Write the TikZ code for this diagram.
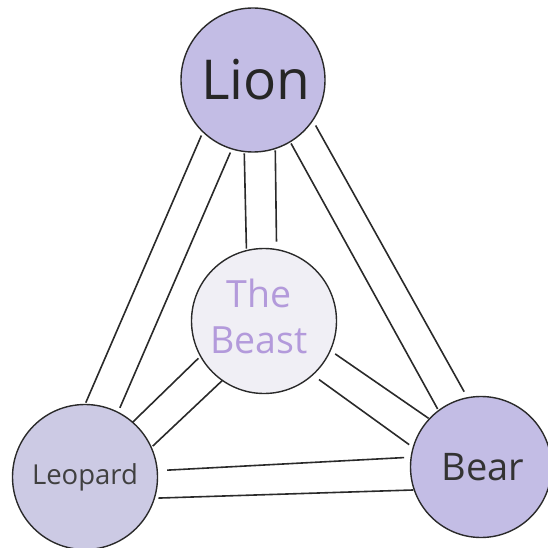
\documentclass[tikz,border=0pt]{standalone}
\usepackage{fontspec}
\setmainfont{Open Sans}
\definecolor{lionfill}{HTML}{C3BDE5}
\definecolor{leofill}{HTML}{CCCAE4}
\definecolor{beastfill}{HTML}{F0EFF5}
\definecolor{beasttext}{HTML}{B39ADB}
\definecolor{edgecol}{HTML}{2A2A2A}
\begin{document}
\begin{tikzpicture}[x=1pt,y=-1pt,
  animal/.style={circle,draw=edgecol,line width=1.4pt,inner sep=0pt,outer sep=0pt,align=center},
  link/.style={draw=edgecol,line width=1.6pt}]
\useasboundingbox (0,0) rectangle (548,548);
\begin{scope}
\clip (0,0) rectangle (548,548);
\node[animal,fill=lionfill,minimum size=144pt,text=black!85,font=\fontsize{55}{60}\selectfont] (lion) at (253,80) {\hspace*{6pt}Lion};
\node[animal,fill=beastfill,minimum size=145pt] (beast) at (264,321) {};
\node[text=beasttext,font=\fontsize{37.5}{46}\selectfont,align=center,inner sep=0pt] (beastlbl) at (259,316) {The\\Beast};
\node[animal,fill=leofill,minimum size=145pt,text=black!75,font=\fontsize{27.5}{30}\selectfont] (leo) at (85,477) {Leopard};
\node[animal,fill=lionfill,minimum size=141pt,text=black!80,font=\fontsize{38}{40}\selectfont] (bear) at (481,467) {\hspace*{4pt}Bear};
\end{scope}
% Lion - Leopard
\draw[link,shorten <=4pt,shorten >=2pt] (lion.226.5) -- (leo.90);
\draw[link,shorten <=4pt,shorten >=5pt] (lion.253) -- (leo.63.4);
% Lion - Beast
\draw[link,shorten <=2pt,shorten >=2pt] (lion.263.5) -- (beast.104.7);
\draw[link,shorten <=2pt,shorten >=8pt] (lion.288.9) -- (beast.80.1);
% Lion - Bear
\draw[link,shorten <=2pt,shorten >=2pt] (lion.301.8) -- (bear.127.3);
\draw[link,shorten <=6pt,shorten >=7pt] (lion.326.5) -- (bear.101.9);
% Beast - Leopard
\draw[link,shorten <=3pt,shorten >=0pt] (beast.209) -- (leo.49.3);
\draw[link,shorten <=0pt,shorten >=2pt] (beast.235.8) -- (leo.24.4);
% Beast - Bear
\draw[link,shorten <=6pt,shorten >=1pt] (beast.336.4) -- (bear.137.1);
\draw[link,shorten <=8pt,shorten >=5pt] (beast.312.4) -- (bear.164);
% Leopard - Bear
\draw[link,shorten <=10pt,shorten >=7pt] (leo.5.3) -- (bear.172.9);
\draw[link,shorten <=4pt,shorten >=1pt] (leo.343.4) -- (bear.199.2);
\end{tikzpicture}
\end{document}
